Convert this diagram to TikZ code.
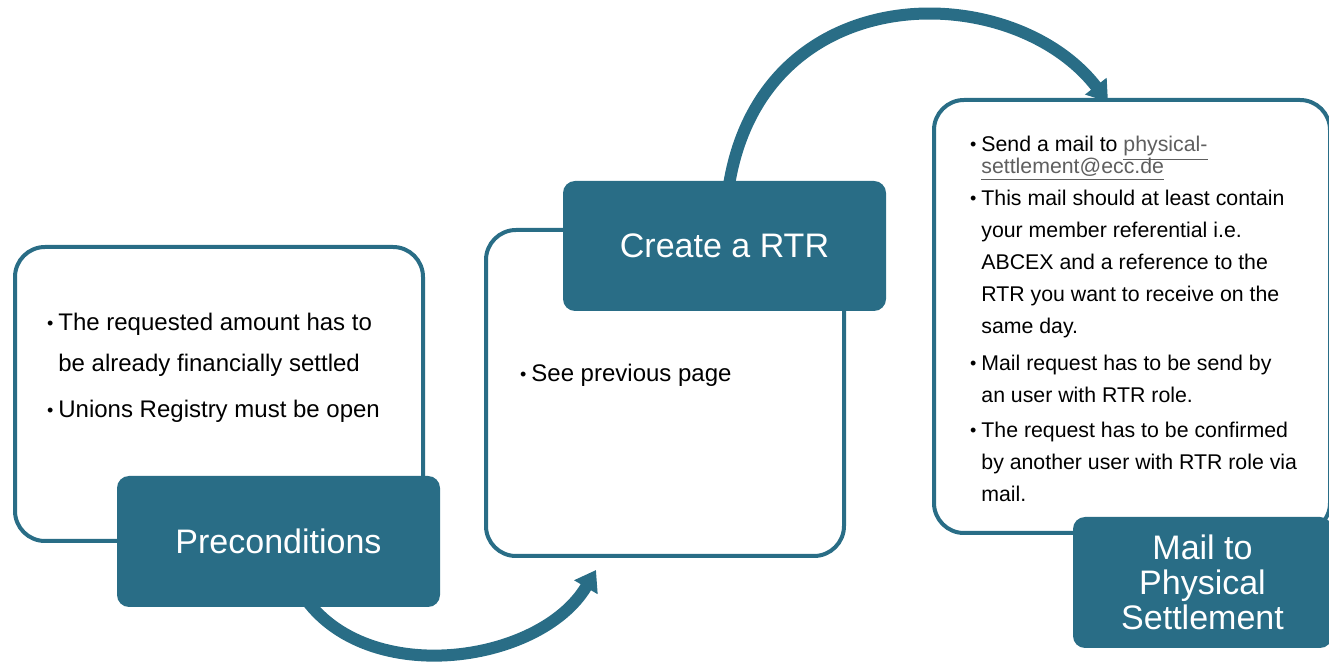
\documentclass[tikz,border=0pt]{standalone}
\usepackage{fontspec}
\setmainfont{Liberation Sans}
\usetikzlibrary{arrows.meta,backgrounds}
\definecolor{stepteal}{HTML}{296D86}
\definecolor{linkgray}{HTML}{5F5F5F}
\newcommand{\bul}{\llap{\raisebox{0.1ex}{\fontsize{9}{9}\selectfont\textbullet}\hspace{2.5pt}}}
\newcommand{\lnk}[1]{\textcolor{linkgray}{\underline{#1}}}

\begin{document}
\begin{tikzpicture}[x=0.5pt,y=-0.5pt,
  card/.style={draw=stepteal,line width=2pt,fill=white,rounded corners=15pt,inner sep=0pt},
  title/.style={fill=stepteal,text=white,rounded corners=6pt,inner sep=0pt,align=center,font=\fontsize{17}{17.5}\selectfont},
  body/.style={anchor=base west,inner sep=0pt,align=left},
  flow/.style={stepteal,line width=6pt,-{Triangle[length=10pt,width=13pt]}}]
\useasboundingbox (0,0) rectangle (1329,662);
\node[card,minimum width=204pt,minimum height=147pt] (pre-box) at (219,394) {};
\node[title,minimum width=161.5pt,minimum height=65.5pt] (pre) at (278.5,541.5) {Preconditions};
\node[card,minimum width=179pt,minimum height=163pt] (rtr-box) at (665,393) {};
\node[title,minimum width=161.5pt,minimum height=65pt] (rtr) at (724.5,246) {Create a RTR};
\node[card,minimum width=198pt,minimum height=216.5pt] (mail-box) at (1132,316.5) {};
\node[title,minimum width=129.5pt,minimum height=65.5pt] (mail) at (1202.5,582.5) {Mail to\\Physical\\Settlement};
\node[body,font=\fontsize{12}{20.5}\selectfont] (pre-text) at (58,418)
  {\bul The requested amount has to\\be already financially settled\\[2.5pt]\bul Unions Registry must be open};
\node[body,font=\fontsize{12}{20.5}\selectfont] (rtr-text) at (531,382) {\bul See previous page};
\node[body,font=\fontsize{10.65}{16}\selectfont] (mail-text) at (981,502)
  {\bul Send a mail to \lnk{physical-}\\[-5pt]
   \lnk{settlement@ecc.de}\\
   \bul This mail should at least contain\\
   your member referential i.e.\\
   ABCEX and a reference to the\\
   RTR you want to receive on the\\
   same day.\\[2.5pt]
   \bul Mail request has to be send by\\
   an user with RTR role.\\[1.5pt]
   \bul The request has to be confirmed\\
   by another user with RTR role via\\
   mail.};
\begin{scope}[on background layer]
\draw[flow] ([xshift=10.75pt,yshift=8.5pt]pre.south) .. controls (360,690) and (540,665) .. ([xshift=-34.5pt,yshift=-6pt]rtr-box.south);
\draw[flow] ([xshift=1.25pt,yshift=-9.5pt]rtr.north) .. controls (752,-25) and (1010,-25) .. ([xshift=-12pt,yshift=-2pt]mail-box.north);
\end{scope}
\end{tikzpicture}
\end{document}
